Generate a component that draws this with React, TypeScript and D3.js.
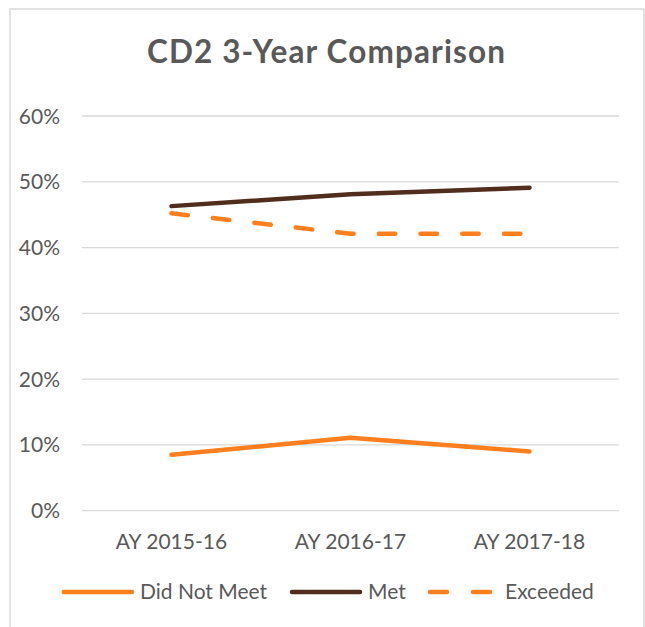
import React from "react";
import * as d3 from "d3";

const categories = ["AY 2015-16", "AY 2016-17", "AY 2017-18"];
const didNotMeet = [8.5, 11.1, 9.0];
const met = [46.3, 48.1, 49.1];
const exceeded = [45.2, 42.1, 42.1];
const yTicks = [0, 10, 20, 30, 40, 50, 60];
const seriesNames = ["Did Not Meet", "Met", "Exceeded"];

const W = 645;
const H = 627;
const FONT = "Lato, 'Open Sans', sans-serif";
const TEXT = "#595959";
const ORANGE = "#FF7F1F";
const BROWN = "#512D1E";

export default function App() {
  const x = d3.scaleBand<string>().domain(categories).range([82, 619]);
  const y = d3.scaleLinear().domain([0, 60]).range([510.7, 116]);
  const line = d3
    .line<number>()
    .x((_, i) => (x(categories[i]) as number) + x.bandwidth() / 2)
    .y((d) => y(d));

  const series = [
    { name: seriesNames[0], data: didNotMeet, color: ORANGE, dash: undefined as string | undefined },
    { name: seriesNames[1], data: met, color: BROWN, dash: undefined },
    { name: seriesNames[2], data: exceeded, color: ORANGE, dash: "16.5 25.2" },
  ];

  const legendItems = [
    { x1: 62, x2: 134, tx: 140 },
    { x1: 290, x2: 362, tx: 368 },
    { x1: 428, x2: 492, tx: 505 },
  ];

  return (
    <svg
      width={W}
      height={H}
      style={{ position: "absolute", left: 0, top: 0, background: "#fff" }}
      fontFamily={FONT}
    >
      <rect x={10} y={9} width={634} height={640} fill="#fff" stroke="#d9d9d9" strokeWidth={1.5} />
      <text
        x={326}
        y={63.3}
        textAnchor="middle"
        fontSize={31.5}
        fontWeight="bold"
        fill={TEXT}
        textLength={358}
        lengthAdjust="spacing"
      >
        CD2 3-Year Comparison
      </text>
      {yTicks.map((t) => (
        <g key={t}>
          <line x1={82} x2={619} y1={y(t)} y2={y(t)} stroke="#d9d9d9" strokeWidth={1.3} />
          <text x={60} y={y(t)} dy="0.36em" textAnchor="end" fontSize={21} fill={TEXT}>
            {t}%
          </text>
        </g>
      ))}
      {categories.map((c) => (
        <text
          key={c}
          x={(x(c) as number) + x.bandwidth() / 2}
          y={549}
          textAnchor="middle"
          fontSize={21}
          fill={TEXT}
        >
          {c}
        </text>
      ))}
      {series.map((s) => (
        <path
          key={s.name}
          d={line(s.data) || ""}
          fill="none"
          stroke={s.color}
          strokeWidth={4.5}
          strokeLinecap="round"
          strokeLinejoin="round"
          strokeDasharray={s.dash}
        />
      ))}
      {series.map((s, i) => (
        <g key={"lg" + s.name}>
          <line
            x1={legendItems[i].x1 + 2}
            x2={legendItems[i].x2 - 2}
            y1={592}
            y2={592}
            stroke={s.color}
            strokeWidth={4.5}
            strokeLinecap="round"
            strokeDasharray={s.dash ? "17 26" : undefined}
          />
          <text x={legendItems[i].tx} y={599} fontSize={21} fill={TEXT}>
            {s.name}
          </text>
        </g>
      ))}
    </svg>
  );
}
